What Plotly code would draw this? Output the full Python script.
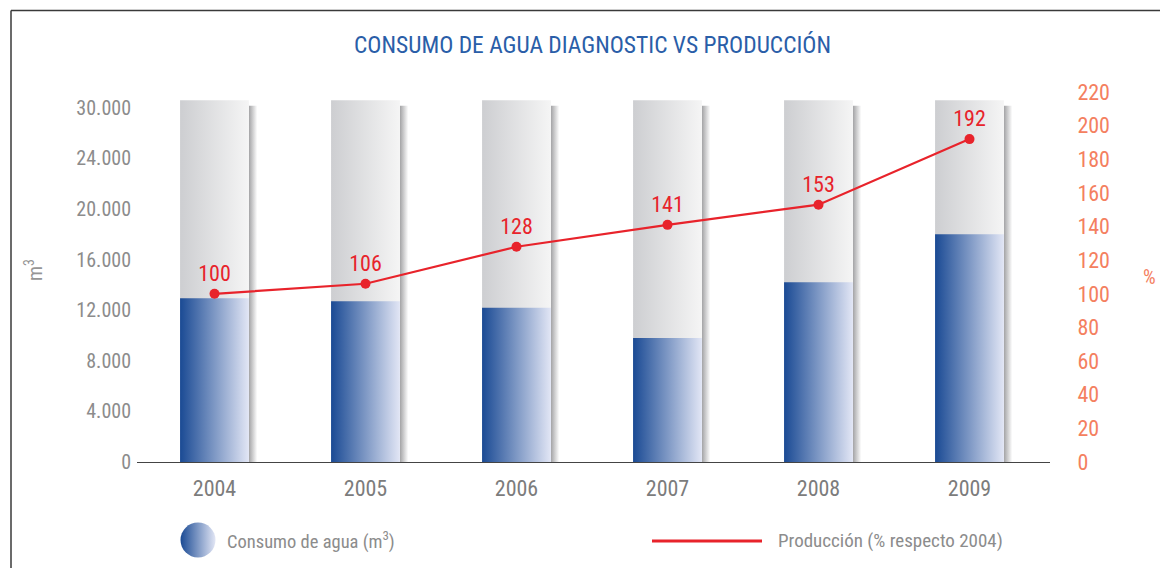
import plotly.graph_objects as go

# ---- data ----
years = ["2004", "2005", "2006", "2007", "2008", "2009"]
consumo_agua = [12950, 12700, 12200, 9800, 14200, 18000]      # m3
produccion_pct = [100, 106, 128, 141, 153, 192]                # % respecto 2004
bar_background = [28600, 28600, 28600, 28600, 28600, 28600]    # grey column behind each bar

y_tick_values = [0, 4000, 8000, 12000, 16000, 20000, 24000, 28000]
y_tick_labels = ["0", "4.000", "8.000", "12.000", "16.000", "20.000", "24.000", "30.000"]
y2_tick_values = [0, 20, 40, 60, 80, 100, 120, 140, 160, 180, 200, 220]

# ---- styling ----
FONT = "Liberation Sans Narrow, Arial Narrow, Roboto Condensed, Liberation Sans, sans-serif"
BLUE_DARK = "#1a4a94"
BLUE_LIGHT = "#e2e6f5"
GREY_DARK = "#cdced1"
GREY_LIGHT = "#f5f5f5"
RED = "#e8232b"
SALMON = "#f4805f"
TITLE_BLUE = "#2a5ea8"
LABEL_GREY = "#8c8c8c"

W, H = 1160, 568
PLOT_L, PLOT_R, PLOT_T, PLOT_B = 137, 1050, 92, 462
HALF = 0.228          # half bar width in category units
SHADOW = 0.055        # width of the soft shadow right of each column

fig = go.Figure()


def rect_trace(x0, x1, y0, y1, colors):
    grad = dict(type="horizontal", colorscale=[[0, colors[0]], [1, colors[1]]])
    return go.Scatter(
        x=[x0, x1, x1, x0, x0], y=[y0, y0, y1, y1, y0],
        mode="lines", line=dict(width=0), fill="toself",
        fillgradient=grad, hoverinfo="skip", showlegend=False,
        xaxis="x", yaxis="y",
    )


for i, yr in enumerate(years):
    # shadow strip on the right of the grey column
    fig.add_trace(rect_trace(i + HALF, i + HALF + SHADOW, 0, bar_background[i] * 0.985,
                             ["#a3a3a5", "#ffffff"]))
    # grey background column
    fig.add_trace(rect_trace(i - HALF, i + HALF, 0, bar_background[i], [GREY_DARK, GREY_LIGHT]))
    # blue consumption bar
    fig.add_trace(rect_trace(i - HALF, i + HALF, 0, consumo_agua[i], [BLUE_DARK, BLUE_LIGHT]))

# production line on the secondary axis
fig.add_trace(go.Scatter(
    x=list(range(len(years))), y=produccion_pct,
    mode="lines+markers+text",
    line=dict(color=RED, width=2.2),
    marker=dict(color=RED, size=10),
    text=[str(v) for v in produccion_pct],
    textposition="top center",
    textfont=dict(family=FONT, size=22, color=RED),
    xaxis="x", yaxis="y2", showlegend=False, hoverinfo="skip",
    cliponaxis=False,
))

# ---- legend swatches drawn on a full-figure pixel overlay ----
fig.add_trace(go.Scatter(
    x=[198], y=[540], mode="markers",
    marker=dict(size=35, color=BLUE_DARK, symbol="circle",
                gradient=dict(type="horizontal", color=BLUE_LIGHT),
                line=dict(width=0)),
    xaxis="x3", yaxis="y3", showlegend=False, hoverinfo="skip",
))
fig.add_trace(go.Scatter(
    x=[652, 762], y=[541, 541], mode="lines",
    line=dict(color=RED, width=3),
    xaxis="x3", yaxis="y3", showlegend=False, hoverinfo="skip",
))

x_dom = [PLOT_L / W, PLOT_R / W]
y_dom = [(H - PLOT_B) / H, (H - PLOT_T) / H]
x_rng = [(PLOT_L - 214.5) / 151, (PLOT_R - 214.5) / 151]
y_px_per_unit = 50.6 / 4000
y_rng = [0, (PLOT_B - PLOT_T) / y_px_per_unit]

fig.update_layout(
    template="none",
    width=W, height=H, autosize=False,
    margin=dict(l=0, r=0, t=0, b=0, pad=0),
    paper_bgcolor="white", plot_bgcolor="rgba(0,0,0,0)",
    font=dict(family=FONT, color=LABEL_GREY),
    xaxis=dict(
        domain=x_dom, range=x_rng, automargin=False,
        tickvals=list(range(len(years))), ticktext=years,
        showgrid=False, zeroline=False,
        showline=True, linecolor="#444444", linewidth=1,
        ticks="outside", ticklen=7, tickcolor="rgba(0,0,0,0)",
        tickfont=dict(size=22, color="#7c7c7c"),
        fixedrange=True,
    ),
    yaxis=dict(
        domain=y_dom, range=y_rng, automargin=False,
        tickvals=y_tick_values, ticktext=y_tick_labels,
        showgrid=False, zeroline=False, showline=False,
        ticks="outside", ticklen=1, tickcolor="rgba(0,0,0,0)",
        tickfont=dict(size=20, color=LABEL_GREY),
        fixedrange=True,
    ),
    yaxis2=dict(
        domain=y_dom, range=[0, 220], overlaying="y", side="right",
        anchor="x", automargin=False,
        tickvals=y2_tick_values,
        showgrid=False, zeroline=False, showline=False,
        ticks="outside", ticklen=22, tickcolor="rgba(0,0,0,0)",
        tickfont=dict(size=22, color=SALMON),
        fixedrange=True,
    ),
    xaxis3=dict(domain=[0, 1], range=[0, W], visible=False, anchor="y3",
                automargin=False, fixedrange=True),
    yaxis3=dict(domain=[0, 1], range=[H, 0], visible=False, anchor="x3",
                automargin=False, fixedrange=True),
    showlegend=False,
    shapes=[
        # outer frame: top and left edges
        dict(type="line", xref="paper", yref="paper",
             x0=11 / W, x1=1, y0=1 - 10.5 / H, y1=1 - 10.5 / H,
             line=dict(color="#3a3a3a", width=1.5), layer="above"),
        dict(type="line", xref="paper", yref="paper",
             x0=11 / W, x1=11 / W, y0=0, y1=1 - 10.5 / H,
             line=dict(color="#3a3a3a", width=1.5), layer="above"),
    ],
    annotations=[
        dict(text="CONSUMO DE AGUA DIAGNOSTIC VS PRODUCCIÓN", xref="paper", yref="paper",
             x=592 / W, y=1 - 45 / H, xanchor="center", yanchor="middle", showarrow=False,
             font=dict(size=23.5, color=TITLE_BLUE, family=FONT)),
        dict(text="m<sup>3</sup>", xref="paper", yref="paper",
             x=34 / W, y=1 - 270 / H, xanchor="center", yanchor="middle", showarrow=False,
             textangle=-90, font=dict(size=20, color="#959595", family=FONT)),
        dict(text="%", xref="paper", yref="paper",
             x=1149 / W, y=1 - 277 / H, xanchor="center", yanchor="middle", showarrow=False,
             font=dict(size=20, color=SALMON, family=FONT)),
        dict(text="Consumo de agua (m<sup>3</sup>)", xref="paper", yref="paper",
             x=225 / W, y=1 - 540 / H, xanchor="left", yanchor="middle", showarrow=False,
             font=dict(size=18.5, color=LABEL_GREY, family=FONT)),
        dict(text="Producción (% respecto 2004)", xref="paper", yref="paper",
             x=776 / W, y=1 - 540 / H, xanchor="left", yanchor="middle", showarrow=False,
             font=dict(size=19, color=LABEL_GREY, family=FONT)),
    ],
)

fig.write_html("out.html")
